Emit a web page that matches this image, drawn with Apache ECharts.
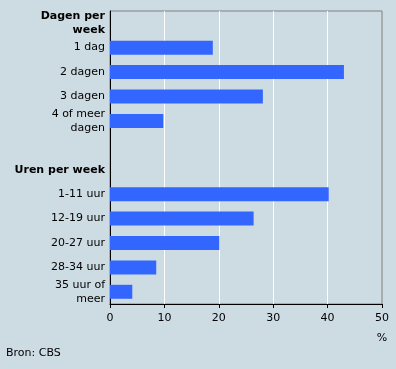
<!DOCTYPE html>
<html><head><meta charset="utf-8">
<script src="https://cdn.jsdelivr.net/npm/echarts@6/dist/echarts.min.js"></script>
<style>html,body{margin:0;padding:0;background:#cddce2;}#c{width:396px;height:369px;}</style>
</head><body><div id="c"></div>
<script>
var categories = ['Dagen per\nweek','1 dag','2 dagen','3 dagen','4 of meer\ndagen','','Uren per week','1-11 uur','12-19 uur','20-27 uur','28-34 uur','35 uur of\nmeer'];
var headers = ['Dagen per\nweek','Uren per week'];
var values = [null,18.9,43.0,28.1,9.8,null,null,40.2,26.4,20.1,8.5,4.1];
var xTicks = [0,10,20,30,40,50];
var chart = echarts.init(document.getElementById('c'));
chart.setOption({
  backgroundColor:'#cddce2',
  animation:false,
  grid:{left:110,right:14,top:11,bottom:65,show:true,borderColor:'#808080',borderWidth:1,backgroundColor:'transparent'},
  xAxis:{type:'value',min:xTicks[0],max:xTicks[xTicks.length-1],interval:10,
    axisLine:{show:true,lineStyle:{color:'#000',width:1}},
    axisTick:{show:true,length:4,lineStyle:{color:'#000'}},
    axisLabel:{color:'#000',fontFamily:'DejaVu Sans',fontSize:11,margin:9},
    splitLine:{show:true,showMaxLine:false,showMinLine:false,lineStyle:{color:'#fff',width:1}},
    name:'%',nameLocation:'end',nameGap:0,
    nameTextStyle:{color:'#000',fontFamily:'DejaVu Sans',fontSize:11,align:'center',verticalAlign:'top',padding:[29,0,0,0]}
  },
  yAxis:{type:'category',data:categories,inverse:true,
    axisLine:{show:true,lineStyle:{color:'#000',width:1}},
    axisTick:{show:false},
    axisLabel:{color:'#000',fontFamily:'DejaVu Sans',fontSize:11,margin:5,lineHeight:14,
      formatter:function(v){return headers.indexOf(v)>=0?'{h|'+v+'}':v;},
      rich:{h:{fontWeight:'bold',fontFamily:'DejaVu Sans',fontSize:11,color:'#000',lineHeight:14,align:'right'}}
    }
  },
  series:[{type:'bar',data:values,barWidth:14,itemStyle:{color:'#3366ff'},silent:true}],
  graphic:[{type:'text',left:6,top:348,style:{text:'Bron: CBS',font:'11px "DejaVu Sans"',fill:'#000'}}]
});
</script></body></html>
